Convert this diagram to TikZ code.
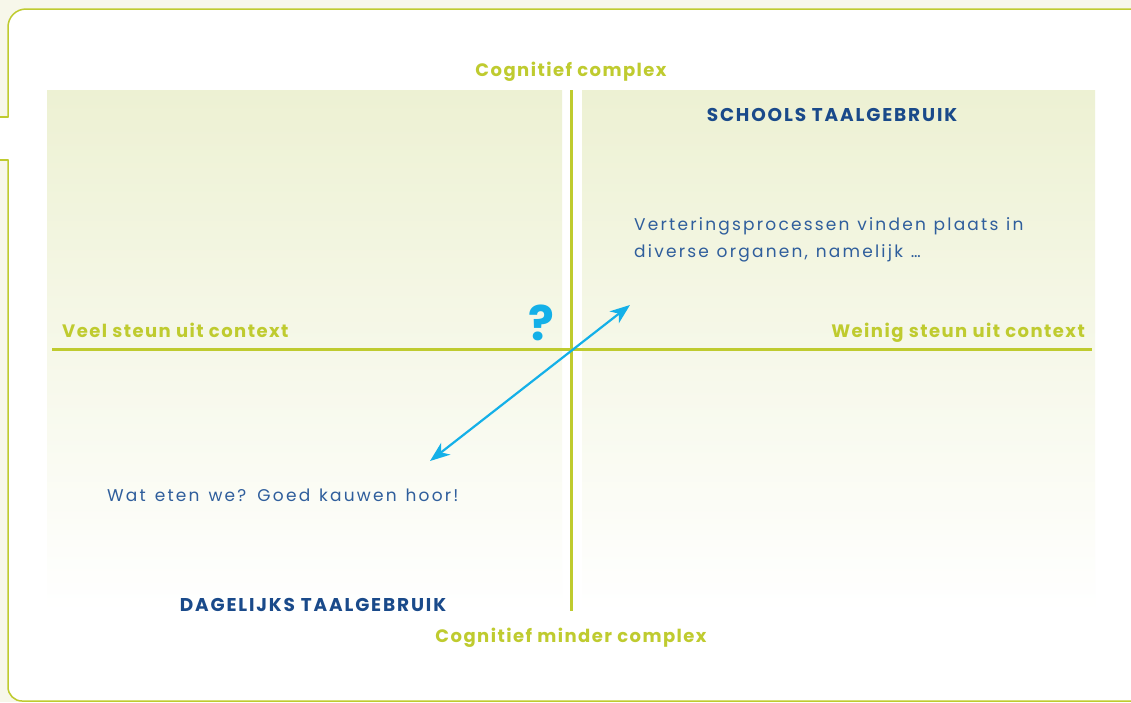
\documentclass[tikz,border=0pt]{standalone}
\usepackage{fontspec}
\setmainfont{Poppins}
\newfontfamily\bodyfont[LetterSpace=13]{Poppins}
\newfontfamily\watfont[LetterSpace=13,WordSpace=1.15]{Poppins}
\newfontfamily\labfont[LetterSpace=8,BoldFeatures={LetterSpace=8}]{Poppins}
\newfontfamily\headfont[LetterSpace=10,BoldFeatures={LetterSpace=10}]{Poppins}
\usetikzlibrary{arrows.meta}
\definecolor{lime}{HTML}{BFCB2F}
\definecolor{cream}{HTML}{F7F7EA}
\definecolor{quadtop}{HTML}{EDF1D3}
\definecolor{navy}{HTML}{1A4A8A}
\definecolor{bodyblue}{HTML}{2F5E9C}
\definecolor{arrowcyan}{HTML}{14B0E8}
\tikzset{
  frame/.style={draw=lime, line width=1.5pt},
  quad/.style={top color=quadtop, bottom color=white, draw=none},
  axis/.style={draw=lime, line width=3pt},
  axislabel/.style={text=lime, font=\labfont\bfseries\fontsize{18}{22}\selectfont, inner sep=0pt, anchor=base},
  heading/.style={text=navy, font=\headfont\bfseries\fontsize{18.5}{22}\selectfont, inner sep=0pt, anchor=base},
  bodytext/.style={text=bodyblue, font=\bodyfont\fontsize{17}{27}\selectfont, inner sep=0pt, align=left, anchor=base west},
  twoway/.style={draw=arrowcyan, line width=2.2pt,
    {Stealth[length=20pt,width=15pt,inset=6pt]}-{Stealth[length=20pt,width=15pt,inset=6pt]}}
}
\begin{document}
\begin{tikzpicture}[x=1pt,y=-1pt]
\useasboundingbox (0,0) rectangle (1131,702);
\clip (0,0) rectangle (1131,702);
% page background and frame
\fill[cream] (0,0) rectangle (1131,702);
\fill[white, rounded corners=17pt] (8,9) rectangle (1160,701);
\fill[white] (0,117) rectangle (8,160);
\draw[frame] (0,117) -- (8,117);
\draw[frame, rounded corners=18pt] (8,117.7) -- (8,9) -- (1160,9);
\draw[frame] (0,160) -- (8,160);
\draw[frame, rounded corners=14pt] (8,159.3) -- (8,701) -- (1160,701);
% quadrants
\shade[quad] (47,90) rectangle (562,612);
\shade[quad] (582,90) rectangle (1095,612);
% axes
\coordinate (top) at (571,90);
\coordinate (bottom) at (571,611);
\coordinate (left) at (52,349);
\coordinate (right) at (1092,349);
\draw[axis] (top) -- (bottom);
\draw[axis] (left) -- (right);
% labels
\node[axislabel] (cc) at (571,76) {Cognitief complex};
\node[axislabel] (cmc) at (571,642) {Cognitief minder complex};
\node[axislabel, anchor=base west] (veel) at (62,337) {Veel steun uit context};
\node[axislabel, anchor=base east] (weinig) at (1085,337) {Weinig steun uit context};
\node[heading] (school) at (832,121) {SCHOOLS TAALGEBRUIK};
\node[heading] (dagelijks) at (313,611) {DAGELIJKS TAALGEBRUIK};
\node[bodytext] (vert) at (634,257) {Verteringsprocessen vinden plaats in\\diverse organen, namelijk \dots};
\node[bodytext, font=\watfont\fontsize{17}{27}\selectfont] (wat) at (107,501) {Wat eten we? Goed kauwen hoor!};
\node[text=arrowcyan, font=\bfseries\fontsize{48}{48}\selectfont, inner sep=0pt, anchor=base] (q) at (541,340) {?};
% arrow
\coordinate (a1) at (430,461);
\coordinate (a2) at (630,305);
\draw[twoway] (a1) -- (a2);
\end{tikzpicture}
\end{document}
